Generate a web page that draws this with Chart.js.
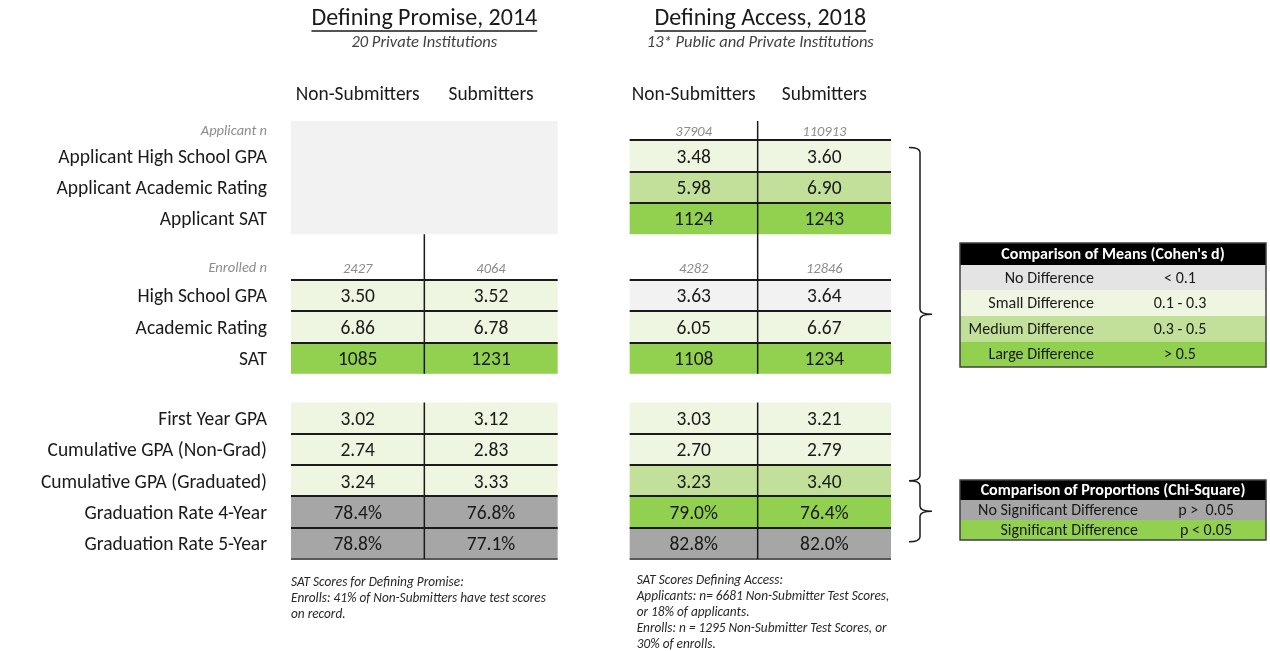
<!DOCTYPE html>
<html>
<head>
<meta charset="utf-8">
<title>Non-Submitters vs Submitters: Defining Promise and Defining Access</title>
<script src="https://cdn.jsdelivr.net/npm/chart.js@4.4.0/dist/chart.umd.min.js"></script>
<style>
  html, body { margin: 0; padding: 0; background: #ffffff; }
</style>
</head>
<body>
<canvas id="grid" width="1270" height="651"></canvas>
<script>
const FONT = 'Calibri, Carlito, Lato, "Open Sans", sans-serif';

// ---- data ----
const groupTitles = ['Defining Promise, 2014', 'Defining Access, 2018'];
const groupSubtitles = ['20 Private Institutions', '13* Public and Private Institutions'];
const columnLabels = ['Non-Submitters', 'Submitters', 'Non-Submitters', 'Submitters'];

const metrics = [
  'Applicant High School GPA', 'Applicant Academic Rating', 'Applicant SAT',
  'High School GPA', 'Academic Rating', 'SAT',
  'First Year GPA', 'Cumulative GPA (Non-Grad)', 'Cumulative GPA (Graduated)',
  'Graduation Rate 4-Year', 'Graduation Rate 5-Year'
];
const metricFormat = ['gpa', 'gpa', 'sat', 'gpa', 'gpa', 'sat', 'gpa', 'gpa', 'gpa', 'pct', 'pct'];

// n per column: Promise NS, Promise S, Access NS, Access S
const applicantN = [null, null, 37904, 110913];
const enrolledN = [2427, 4064, 4282, 12846];

const promiseNonSubmitters = [null, null, null, 3.50, 6.86, 1085, 3.02, 2.74, 3.24, 78.4, 78.8];
const promiseSubmitters    = [null, null, null, 3.52, 6.78, 1231, 3.12, 2.83, 3.33, 76.8, 77.1];
const accessNonSubmitters  = [3.48, 5.98, 1124, 3.63, 6.05, 1108, 3.03, 2.70, 3.23, 79.0, 82.8];
const accessSubmitters     = [3.60, 6.90, 1243, 3.64, 6.67, 1234, 3.21, 2.79, 3.40, 76.4, 82.0];

// effect size / significance per metric row
const promiseResult = [null, null, null, 'small', 'small', 'large', 'small', 'small', 'small', 'ns', 'ns'];
const accessResult  = ['small', 'medium', 'large', 'none', 'small', 'large', 'small', 'small', 'medium', 'sig', 'ns'];

const meansTitle = "Comparison of Means (Cohen's d)";
const meansLabels = ['No Difference', 'Small Difference', 'Medium Difference', 'Large Difference'];
const meansRanges = ['< 0.1', '0.1 - 0.3', '0.3 - 0.5', '> 0.5'];
const propTitle = 'Comparison of Proportions (Chi-Square)';
const propLabels = ['No Significant Difference', 'Significant Difference'];
const propRanges = ['p >  0.05', 'p < 0.05'];

const promiseNote = [
  'SAT Scores for Defining Promise:',
  'Enrolls: 41% of Non-Submitters have test scores',
  'on record.'
];
const accessNote = [
  'SAT Scores Defining Access:',
  'Applicants: n= 6681 Non-Submitter Test Scores,',
  'or 18% of applicants.',
  'Enrolls: n = 1295 Non-Submitter Test Scores, or',
  '30% of enrolls.'
];

// ---- layout (row units on y, column units on x) ----
const cellFill = { none: '#f2f2f2', small: '#eef5e0', medium: '#c2e09a', large: '#92d050', ns: '#a6a6a6', sig: '#92d050' };
const meansFill = ['#e4e4e4', '#eef5e0', '#c2e09a', '#92d050'];
const propFill = ['#a6a6a6', '#92d050'];

const colRange = [[0, 1], [1, 2], [2.54, 3.5], [3.5, 4.5]];
const colValues = [promiseNonSubmitters, promiseSubmitters, accessNonSubmitters, accessSubmitters];
const colResult = [promiseResult, promiseResult, accessResult, accessResult];

const blockTop = [0.62, 5.08, 9.0];
function rowTop(i) {
  if (i < 3) return blockTop[0] + i;
  if (i < 6) return blockTop[1] + i - 3;
  return blockTop[2] + i - 6;
}
const nRowY = [0.32, 4.7];

// label rows sit a touch below the cell centre, like the reference
const yTicks = [{ value: nRowY[0], label: 'Applicant n', small: true }];
metrics.forEach((m, i) => {
  if (i === 3) yTicks.push({ value: nRowY[1], label: 'Enrolled n', small: true });
  yTicks.push({ value: rowTop(i) + 0.56, label: m, small: false });
});
const xTicks = colRange.map(r => (r[0] + r[1]) / 2);

function fmt(v, kind) {
  if (v == null) return '';
  if (kind === 'sat') return String(Math.round(v));
  if (kind === 'pct') return v.toFixed(1) + '%';
  return v.toFixed(2);
}

const tablePlugin = {
  id: 'tablePlugin',
  afterDraw(chart) {
    const { ctx, chartArea } = chart;
    const x = chart.scales.x, y = chart.scales.y;
    const px = v => x.getPixelForValue(v);
    const py = v => y.getPixelForValue(v);
    ctx.save();

    // empty applicant block for Defining Promise
    ctx.fillStyle = '#f2f2f2';
    ctx.fillRect(px(0), py(0), px(2) - px(0), py(blockTop[0] + 3) - py(0));

    // cells
    ctx.textAlign = 'center';
    ctx.textBaseline = 'middle';
    colValues.forEach((vals, c) => {
      vals.forEach((v, i) => {
        if (v == null) return;
        const x0 = px(colRange[c][0]), x1 = px(colRange[c][1]);
        const y0 = py(rowTop(i)), y1 = py(rowTop(i) + 1);
        ctx.fillStyle = cellFill[colResult[c][i]];
        ctx.fillRect(x0, y0, x1 - x0, y1 - y0);
        ctx.fillStyle = '#1a1a1a';
        ctx.font = '19.5px ' + FONT;
        ctx.fillText(fmt(v, metricFormat[i]), (x0 + x1) / 2, (y0 + y1) / 2 + 2);
      });
    });

    // n counts
    ctx.font = 'italic 14.5px ' + FONT;
    ctx.fillStyle = '#8c8c8c';
    [applicantN, enrolledN].forEach((ns, k) => {
      ns.forEach((n, c) => {
        if (n == null) return;
        ctx.fillText(String(n), px(xTicks[c]), py(nRowY[k]) + 1);
      });
    });

    // horizontal rules, dividers and titles per group
    const groups = [[0, 2, 1], [2.54, 4.5, 3.5]];
    groups.forEach((g, gi) => {
      const vals = gi === 0 ? promiseNonSubmitters : accessNonSubmitters;
      ctx.strokeStyle = '#1a1a1a';
      ctx.lineWidth = 2;
      metrics.forEach((m, i) => {
        if (vals[i] == null || i === 6) return;
        const yy = Math.round(py(rowTop(i)));
        ctx.beginPath();
        ctx.moveTo(px(g[0]), yy);
        ctx.lineTo(px(g[1]), yy);
        ctx.stroke();
      });
      ctx.strokeStyle = '#595959';
      const yb = Math.round(py(blockTop[2] + 5));
      ctx.beginPath();
      ctx.moveTo(px(g[0]), yb);
      ctx.lineTo(px(g[1]), yb);
      ctx.stroke();

      ctx.strokeStyle = '#1a1a1a';
      ctx.lineWidth = 1.5;
      const startTop = gi === 0 ? blockTop[0] + 3 : 0;
      ctx.beginPath();
      ctx.moveTo(px(g[2]), py(startTop));
      ctx.lineTo(px(g[2]), py(blockTop[1] + 3));
      ctx.moveTo(px(g[2]), py(blockTop[2]));
      ctx.lineTo(px(g[2]), py(blockTop[2] + 5));
      ctx.stroke();

      const cx = px((g[0] + g[1]) / 2);
      ctx.fillStyle = '#1a1a1a';
      ctx.font = '24px ' + FONT;
      ctx.fillText(groupTitles[gi], cx, 19);
      const tw = ctx.measureText(groupTitles[gi]).width;
      ctx.lineWidth = 1.5;
      ctx.beginPath();
      ctx.moveTo(cx - tw / 2, 31);
      ctx.lineTo(cx + tw / 2, 31);
      ctx.stroke();
      ctx.font = 'italic 16.5px ' + FONT;
      ctx.fillStyle = '#404040';
      ctx.fillText(groupSubtitles[gi], cx, 43);
    });

    // braces
    function brace(bx, top, bottom) {
      const mid = (top + bottom) / 2;
      ctx.beginPath();
      ctx.moveTo(bx - 11, top);
      ctx.quadraticCurveTo(bx, top, bx, top + 5);
      ctx.lineTo(bx, mid - 5);
      ctx.quadraticCurveTo(bx, mid, bx + 12, mid);
      ctx.moveTo(bx + 12, mid);
      ctx.quadraticCurveTo(bx, mid, bx, mid + 5);
      ctx.lineTo(bx, bottom - 5);
      ctx.quadraticCurveTo(bx, bottom, bx - 11, bottom);
      ctx.stroke();
    }
    ctx.strokeStyle = '#1a1a1a';
    ctx.lineWidth = 1.5;
    const bx = chartArea.right + 29;
    brace(bx, py(0.85), py(11.5));
    brace(bx, py(11.5), py(13.45));

    // legend tables
    function legendTable(left, top, width, headH, rowH, title, labels, ranges, fills, labelRight, rangeCenter) {
      ctx.fillStyle = '#000000';
      ctx.fillRect(left, top, width, headH);
      ctx.fillStyle = '#ffffff';
      ctx.font = 'bold 16px ' + FONT;
      ctx.textAlign = 'center';
      ctx.fillText(title, left + width / 2, top + headH / 2 + 1);
      labels.forEach((lab, i) => {
        const ry = top + headH + i * rowH;
        ctx.fillStyle = fills[i];
        ctx.fillRect(left, ry, width, rowH);
        ctx.fillStyle = '#1a1a1a';
        ctx.font = '16px ' + FONT;
        ctx.textAlign = 'right';
        ctx.fillText(lab, left + labelRight, ry + rowH / 2 + 1);
        ctx.textAlign = 'center';
        ctx.fillText(ranges[i], left + rangeCenter, ry + rowH / 2 + 1);
      });
      ctx.strokeStyle = '#404040';
      ctx.lineWidth = 1.5;
      ctx.strokeRect(left, top, width, headH + labels.length * rowH);
    }
    const lx = chartArea.right + 69;
    legendTable(lx, Math.round(py(3.9)), 306, 22, 25.5, meansTitle, meansLabels, meansRanges, meansFill, 134, 220);
    legendTable(lx, Math.round(py(11.47)), 306, 20, 20, propTitle, propLabels, propRanges, propFill, 178, 246);

    // notes
    ctx.font = 'italic 13.3px ' + FONT;
    ctx.fillStyle = '#262626';
    ctx.textAlign = 'left';
    promiseNote.forEach((t, i) => ctx.fillText(t, px(0), chartArea.bottom + 24 + i * 16));
    accessNote.forEach((t, i) => ctx.fillText(t, px(2.54) + 7, chartArea.bottom + 22 + i * 16));

    ctx.restore();
  }
};

new Chart(document.getElementById('grid'), {
  type: 'scatter',
  data: { datasets: [] },
  options: {
    responsive: false,
    animation: false,
    devicePixelRatio: 1,
    layout: { padding: { left: 0, top: 0, right: 379, bottom: 92 } },
    plugins: { legend: { display: false }, tooltip: { enabled: false } },
    scales: {
      x: {
        type: 'linear', position: 'top', min: 0, max: 4.5, bounds: 'data',
        afterFit: s => { s.height = 121; },
        afterBuildTicks: s => { s.ticks = xTicks.map(v => ({ value: v })); },
        grid: { display: false, drawTicks: false },
        border: { display: false },
        ticks: {
          padding: 14, autoSkip: false, maxRotation: 0, minRotation: 0,
          callback: (v, i) => columnLabels[i],
          font: { family: FONT, size: 19.4 }, color: '#1a1a1a'
        }
      },
      y: {
        type: 'linear', position: 'left', reverse: true, min: 0, max: 14, bounds: 'data',
        afterFit: s => { s.width = 291; },
        afterBuildTicks: s => { s.ticks = yTicks.map(t => ({ value: t.value })); },
        grid: { display: false, drawTicks: false },
        border: { display: false },
        ticks: {
          padding: 24, autoSkip: false,
          callback: (v, i) => yTicks[i].label,
          font: ctx => yTicks[ctx.index] && yTicks[ctx.index].small
            ? { family: FONT, size: 14.5, style: 'italic' }
            : { family: FONT, size: 19.5 },
          color: ctx => yTicks[ctx.index] && yTicks[ctx.index].small ? '#8c8c8c' : '#1a1a1a'
        }
      }
    }
  },
  plugins: [tablePlugin]
});
</script>
</body>
</html>
